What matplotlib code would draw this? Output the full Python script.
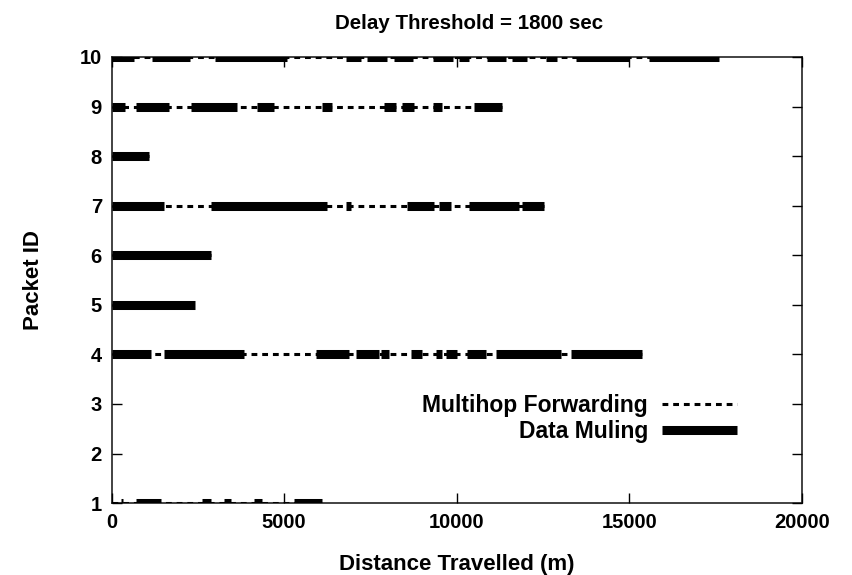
import matplotlib.pyplot as plt
from matplotlib.lines import Line2D

plt.rcParams['font.family'] = ['Liberation Sans', 'DejaVu Sans']
plt.rcParams['font.weight'] = 'bold'

# Packets and the total distance each one covered (m)
packet_ids = [1, 4, 5, 6, 7, 8, 9, 10]
total_distance = [6110, 15380, 2410, 2880, 12530, 1080, 11320, 17590]

# Stretches travelled by data muling (start, end) in m, per packet
muling = {
    1: [(260, 340), (700, 1420), (2630, 2870), (3260, 3450), (4120, 4370),
        (5280, 6110)],
    4: [(0, 1130), (1520, 3830), (5910, 6880), (7070, 7750), (7800, 8030),
        (8670, 9000), (9390, 9580), (9680, 10020), (10310, 10840),
        (11130, 13010), (13300, 15380)],
    5: [(0, 2410)],
    6: [(0, 2880)],
    7: [(0, 1520), (2870, 6250), (6780, 6930), (8570, 9340), (9490, 9830),
        (10360, 11810), (11900, 12530)],
    8: [(0, 1080)],
    9: [(0, 400), (700, 1660), (2290, 3640), (4220, 4700), (6100, 6400),
        (7890, 8230), (8420, 8760), (9300, 9580), (10500, 11320)],
    10: [(0, 640), (1180, 2270), (3010, 5090), (6780, 7220), (7410, 7990),
         (8170, 8720), (9300, 9880), (10060, 10350), (10890, 11420),
         (11610, 12050), (12580, 12920), (13450, 14990), (15570, 17590)],
}

fig = plt.figure(figsize=(8.52, 5.75), dpi=100)
ax = fig.add_axes([0.131, 0.125, 0.81, 0.776])

dot_style = dict(color='black', lw=2.2, dashes=(1.9, 1.6), solid_capstyle='butt')
thick_style = dict(color='black', lw=6.5, solid_capstyle='butt')

for pid, dist in zip(packet_ids, total_distance):
    ax.plot([0, dist], [pid, pid], **dot_style, zorder=2)
    for start, end in muling[pid]:
        ax.plot([start, end], [pid, pid], **thick_style, zorder=3)

ax.set_xlim(0, 20000)
ax.set_ylim(1, 10)
ax.set_xticks([0, 5000, 10000, 15000, 20000])
ax.set_yticks(range(1, 11))
ax.tick_params(direction='in', top=True, right=True, length=7, width=1,
               labelsize=14.5, pad=7, colors='black')
for sp in ax.spines.values():
    sp.set_linewidth(1.2)
    sp.set_color('#222222')
    sp.set_zorder(1)

ax.set_title('Delay Threshold = 1800 sec', fontsize=14.8, fontweight='bold',
             pad=20, x=0.518)
ax.set_xlabel('Distance Travelled (m)', fontsize=16, fontweight='bold', labelpad=16)
ax.set_ylabel('Packet ID', fontsize=16, fontweight='bold', labelpad=26)

handles = [Line2D([], [], **dot_style), Line2D([], [], **thick_style)]
ax.legend(handles, ['Multihop Forwarding', 'Data Muling'], markerfirst=False,
          frameon=False, loc='upper right', bbox_to_anchor=(0.93, 0.28),
          fontsize=16.5, handlelength=3.3, handletextpad=0.6, labelspacing=0.1,
          borderpad=0.2)

fig.savefig('out.png', dpi=100)
